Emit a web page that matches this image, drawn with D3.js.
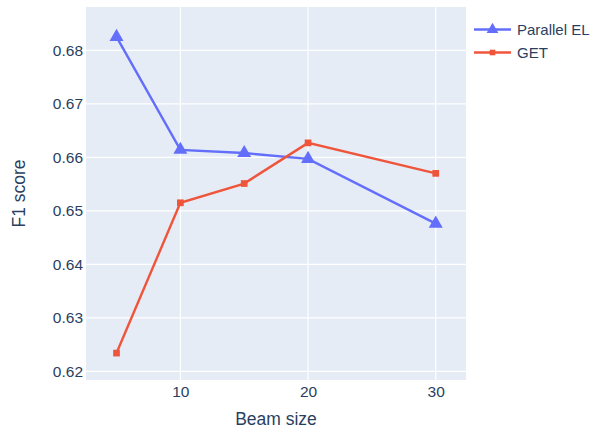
<!DOCTYPE html>
<html>
<head>
<meta charset="utf-8">
<script src="https://cdn.jsdelivr.net/npm/d3@7"></script>
<style>
  body { margin: 0; background: #fff; }
  text { font-family: "Liberation Sans", Arial, sans-serif; fill: #2a3f5f; }
</style>
</head>
<body>
<div id="chart"></div>
<script>
// data
var beamSizes = [5, 10, 15, 20, 30];
var parallelEL = [0.6825, 0.6614, 0.6608, 0.6597, 0.6476];
var getScores = [0.6234, 0.6515, 0.6551, 0.6627, 0.6570];
var seriesNames = ['Parallel EL', 'GET'];
var seriesColors = ['#636efa', '#EF553B'];
var yTicks = [0.62, 0.63, 0.64, 0.65, 0.66, 0.67, 0.68];
var xTicks = [10, 20, 30];

var width = 591, height = 430;
var margin = { top: 7, left: 86, right: 125, bottom: 50 };
var plotW = width - margin.left - margin.right;
var plotH = height - margin.top - margin.bottom;

var svg = d3.select('#chart').append('svg')
    .attr('width', width)
    .attr('height', height);

svg.append('rect')
    .attr('x', margin.left).attr('y', margin.top)
    .attr('width', plotW).attr('height', plotH)
    .attr('fill', '#E5ECF6');

var g = svg.append('g').attr('transform', 'translate(' + margin.left + ',' + margin.top + ')');

var x = d3.scaleLinear().domain([2.61, 32.37]).range([0, plotW]);
var y = d3.scaleLinear().domain([0.61837, 0.6881]).range([plotH, 0]);

//-----grid-------
g.selectAll('.ygrid').data(yTicks).enter().append('line')
    .attr('x1', 0).attr('x2', plotW)
    .attr('y1', function(d){ return y(d) }).attr('y2', function(d){ return y(d) })
    .attr('stroke', '#fff').attr('stroke-width', 1.2);

g.selectAll('.xgrid').data(xTicks).enter().append('line')
    .attr('y1', 0).attr('y2', plotH)
    .attr('x1', function(d){ return x(d) }).attr('x2', function(d){ return x(d) })
    .attr('stroke', '#fff').attr('stroke-width', 1.2);

//-----axes-------
var yAxis = d3.axisLeft(y).tickValues(yTicks).tickFormat(d3.format('.2f')).tickSize(0).tickPadding(3);
var yg = g.append('g').call(yAxis);
yg.select('.domain').remove();
yg.selectAll('text').attr('font-size', 15.5).attr('font-family', null).style('fill', '#2a3f5f');

var xAxis = d3.axisBottom(x).tickValues(xTicks).tickSize(0).tickPadding(6);
var xg = g.append('g').attr('transform', 'translate(0,' + plotH + ')').call(xAxis);
xg.select('.domain').remove();
xg.selectAll('text').attr('font-size', 15.5).attr('font-family', null).style('fill', '#2a3f5f');

svg.append('text')
    .attr('x', margin.left + plotW / 2).attr('y', 425)
    .attr('text-anchor', 'middle').attr('font-size', 17.5)
    .text('Beam size');

svg.append('text')
    .attr('transform', 'translate(25,' + (margin.top + plotH / 2) + ') rotate(-90)')
    .attr('text-anchor', 'middle').attr('font-size', 17.5)
    .text('F1 score');

//-----lines-------
var allSeries = [parallelEL, getScores];
var line = d3.line()
    .x(function(d, i){ return x(beamSizes[i]) })
    .y(function(d){ return y(d) });

var symbols = [d3.symbolTriangle, d3.symbolSquare];
var symbolSizes = [85, 45];

allSeries.forEach(function(vals, s){
    g.append('path').datum(vals)
        .attr('d', line)
        .attr('fill', 'none')
        .attr('stroke', seriesColors[s])
        .attr('stroke-width', 2.4);

    g.selectAll('.pt' + s).data(vals).enter().append('path')
        .attr('d', d3.symbol().type(symbols[s]).size(symbolSizes[s]))
        .attr('transform', function(d, i){ return 'translate(' + x(beamSizes[i]) + ',' + y(d) + ')' })
        .attr('fill', seriesColors[s]);
});

//-----legend-------
var legend = svg.append('g').attr('transform', 'translate(474,29.5)');
seriesNames.forEach(function(name, s){
    var row = legend.append('g').attr('transform', 'translate(0,' + (s * 23) + ')');
    row.append('line').attr('x1', 0).attr('x2', 37).attr('y1', 0).attr('y2', 0)
        .attr('stroke', seriesColors[s]).attr('stroke-width', 2.4);
    row.append('path')
        .attr('d', d3.symbol().type(symbols[s]).size(symbolSizes[s] * 0.7))
        .attr('transform', 'translate(18.5,0)')
        .attr('fill', seriesColors[s]);
    row.append('text').attr('x', 43).attr('y', 5.5)
        .attr('font-size', 15).text(name);
});
</script>
</body>
</html>
